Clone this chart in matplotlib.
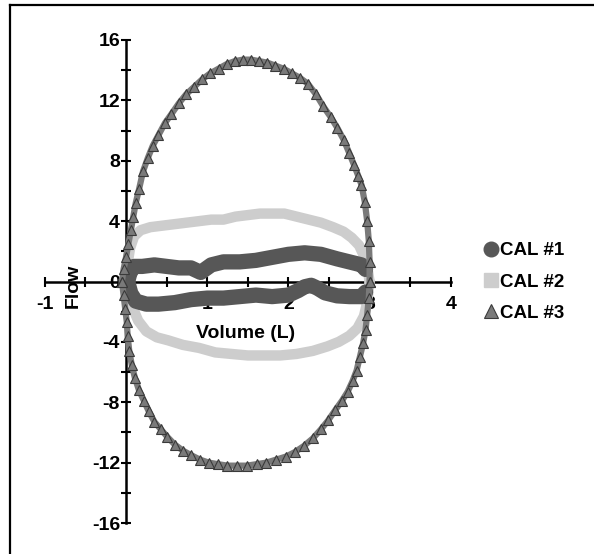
import numpy as np
import matplotlib
matplotlib.use("Agg")
import matplotlib.pyplot as plt
from matplotlib.lines import Line2D

plt.rcParams['font.family'] = ['Liberation Sans', 'DejaVu Sans']
plt.rcParams['font.weight'] = 'bold'

# CAL #1 - dark band (upper and lower branch)
cal1_up_x = [0.02, 0.05, 0.10, 0.20, 0.35, 0.50, 0.65, 0.80, 0.92, 1.05, 1.20, 1.40,
             1.60, 1.80, 2.00, 2.20, 2.40, 2.60, 2.75, 2.90, 2.95]
cal1_up_y = [0.0, 0.6, 1.0, 1.0, 1.1, 1.0, 0.9, 0.9, 0.6, 1.1, 1.3, 1.3,
             1.4, 1.6, 1.8, 1.9, 1.8, 1.5, 1.3, 1.1, 0.8]
cal1_lo_x = [0.02, 0.06, 0.12, 0.25, 0.40, 0.60, 0.80, 1.00, 1.20, 1.40, 1.60, 1.80,
             2.00, 2.12, 2.20, 2.28, 2.36, 2.45, 2.60, 2.75, 2.90, 2.95]
cal1_lo_y = [0.0, -0.8, -1.3, -1.5, -1.5, -1.4, -1.2, -1.1, -1.1, -1.0, -0.9, -1.0,
             -0.9, -0.6, -0.35, -0.25, -0.45, -0.75, -0.95, -1.0, -1.0, -0.7]

# CAL #2 - light band
cal2_up_x = [0.0, 0.02, 0.05, 0.10, 0.18, 0.30, 0.45, 0.60, 0.75, 0.90, 1.05, 1.20, 1.35,
             1.50, 1.65, 1.80, 1.95, 2.10, 2.25, 2.40, 2.55, 2.68, 2.78, 2.87, 2.93, 2.97, 3.0]
cal2_up_y = [0.0, 1.2, 2.2, 3.0, 3.4, 3.6, 3.7, 3.8, 3.9, 4.0, 4.1, 4.1, 4.3,
             4.4, 4.5, 4.5, 4.5, 4.3, 4.1, 3.9, 3.6, 3.3, 2.9, 2.4, 1.7, 1.0, 0.0]
cal2_lo_x = [0.0, 0.03, 0.08, 0.15, 0.25, 0.38, 0.52, 0.70, 0.90, 1.10, 1.30, 1.50,
             1.70, 1.90, 2.10, 2.30, 2.48, 2.62, 2.75, 2.85, 2.93, 2.97, 3.0]
cal2_lo_y = [0.0, -0.8, -1.7, -2.6, -3.3, -3.7, -3.9, -4.2, -4.4, -4.7, -4.8, -4.9,
             -4.9, -4.9, -4.8, -4.6, -4.3, -4.0, -3.6, -3.1, -2.3, -1.4, 0.0]

# CAL #3 - triangles, full loop
cal3_up_x = [-0.05, -0.03, 0.0, 0.03, 0.06, 0.09, 0.12, 0.16, 0.21, 0.27, 0.33, 0.40,
             0.48, 0.56, 0.65, 0.74, 0.84, 0.94, 1.04, 1.14, 1.24, 1.34, 1.44, 1.54,
             1.64, 1.74, 1.84, 1.94, 2.04, 2.14, 2.24, 2.34, 2.43, 2.52, 2.60, 2.68,
             2.75, 2.81, 2.86, 2.90, 2.94, 2.97, 2.99, 3.0, 3.0]
cal3_up_y = [0.0, 0.8, 1.6, 2.5, 3.4, 4.3, 5.2, 6.1, 7.3, 8.2, 9.0, 9.7,
             10.5, 11.1, 11.8, 12.4, 12.9, 13.4, 13.8, 14.1, 14.4, 14.6, 14.7, 14.7,
             14.6, 14.5, 14.3, 14.1, 13.8, 13.5, 13.1, 12.4, 11.6, 10.9, 10.2, 9.4,
             8.5, 7.7, 7.0, 6.4, 5.3, 4.0, 2.7, 1.3, 0.0]
cal3_lo_x = [-0.05, -0.03, -0.01, 0.01, 0.02, 0.04, 0.07, 0.11, 0.16, 0.22, 0.28, 0.35,
             0.43, 0.51, 0.60, 0.70, 0.80, 0.91, 1.02, 1.13, 1.25, 1.37, 1.49, 1.61,
             1.73, 1.85, 1.97, 2.08, 2.19, 2.30, 2.40, 2.49, 2.58, 2.66, 2.73, 2.79,
             2.84, 2.88, 2.92, 2.95, 2.97, 2.99, 3.0]
cal3_lo_y = [0.0, -0.9, -1.8, -2.7, -3.6, -4.6, -5.5, -6.4, -7.2, -7.9, -8.6, -9.3,
             -9.8, -10.3, -10.8, -11.2, -11.5, -11.8, -12.0, -12.1, -12.2, -12.2, -12.2, -12.1,
             -12.0, -11.8, -11.6, -11.3, -10.9, -10.4, -9.8, -9.2, -8.5, -7.9, -7.3, -6.6,
             -5.9, -5.0, -4.1, -3.2, -2.2, -1.1, 0.0]

labels = ['CAL #1', 'CAL #2', 'CAL #3']
x_ticks = [-1, 0, 1, 2, 3, 4]
x_ticklabels = ['-1', '', '1', '2', '3', '4']
y_ticks = [-16, -12, -8, -4, 0, 4, 8, 12, 16]

dark = '#575757'
light = '#cdcdcd'
mid = '#7a7a7a'

fig = plt.figure(figsize=(5.94, 5.54), dpi=100)
ax = fig.add_axes([44.8 / 594, 31 / 554, 406 / 594, 483 / 554])

# bands
ax.plot(cal2_up_x, cal2_up_y, color=light, lw=7.5, solid_capstyle='round', zorder=3)
ax.plot(cal2_lo_x, cal2_lo_y, color=light, lw=7.5, solid_capstyle='round', zorder=3)
ax.plot(cal1_up_x, cal1_up_y, color=dark, lw=11, solid_capstyle='round', zorder=3.1)
ax.plot(cal1_lo_x, cal1_lo_y, color=dark, lw=11, solid_capstyle='round', zorder=3.1)

loop_x = cal3_up_x + cal3_lo_x[::-1]
loop_y = cal3_up_y + cal3_lo_y[::-1]
ax.plot(loop_x, loop_y, color=mid, lw=4.5, zorder=3.2)
ax.plot(loop_x, loop_y, linestyle='none', marker='^', markersize=7.5,
        markerfacecolor=mid, markeredgecolor='#3a3a3a', markeredgewidth=0.8, zorder=3.3)

ax.set_xlim(-1, 4)
ax.set_ylim(-16, 16)
ax.spines['left'].set_position('zero')
ax.spines['bottom'].set_position('zero')
ax.spines['top'].set_visible(False)
ax.spines['right'].set_visible(False)
for s in ('left', 'bottom'):
    ax.spines[s].set_linewidth(1.8)
    ax.spines[s].set_zorder(2.5)

ax.set_xticks(x_ticks)
ax.set_xticklabels(x_ticklabels)
ax.set_xticks(np.arange(-0.5, 4, 1.0), minor=True)
ax.set_yticks(y_ticks)
ax.set_yticklabels([str(v) for v in y_ticks])
ax.set_yticks(np.arange(-14, 16, 4), minor=True)
ax.tick_params(which='both', direction='inout', length=6.5, width=1.5, colors='black')
ax.tick_params(axis='x', which='major', pad=7, labelsize=14)
ax.tick_params(axis='y', which='major', pad=1, labelsize=14)
for t in ax.get_xticklabels() + ax.get_yticklabels():
    t.set_fontweight('bold')

ax.text(0.495, 0.393, 'Volume (L)', transform=ax.transAxes, ha='center', va='center',
        fontsize=14, fontweight='bold')
ax.text(0.069, 0.49, 'Flow', transform=ax.transAxes, ha='center', va='center',
        rotation=90, fontsize=14, fontweight='bold')

handles = [
    Line2D([], [], linestyle='none', marker='o', markersize=10.5, color=dark),
    Line2D([], [], linestyle='none', marker='s', markersize=10, color=light),
    Line2D([], [], linestyle='none', marker='^', markersize=10.5, color=mid,
           markeredgecolor='#3a3a3a', markeredgewidth=0.8),
]
leg = fig.legend(handles, labels, loc='center left', bbox_to_anchor=(472 / 594, 1 - 282 / 554),
                 frameon=False, handlelength=1.0, handletextpad=0.0, labelspacing=0.75,
                 borderpad=0, prop={'size': 13.5, 'weight': 'bold'})

# outer frame (left and top only)
fig.add_artist(Line2D([10 / 594, 10 / 594], [0, 1 - 5 / 554], color='black', lw=1.6))
fig.add_artist(Line2D([10 / 594, 1], [1 - 5 / 554, 1 - 5 / 554], color='black', lw=1.6))

fig.savefig('out.png', dpi=100)
